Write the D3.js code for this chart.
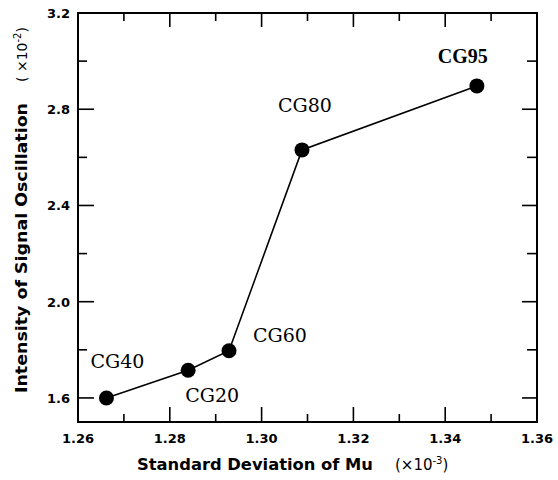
<!DOCTYPE html>
<html>
<head>
<meta charset="utf-8">
<script src="https://cdn.jsdelivr.net/npm/d3@7"></script>
<style>
  body { margin: 0; background: #fff; }
  .tick-label { font-family: "DejaVu Sans", sans-serif; font-weight: bold; font-size: 13px; }
  .axis-title { font-family: "DejaVu Sans", sans-serif; font-weight: bold; font-size: 16px; }
  .pt-label { font-family: "DejaVu Serif", serif; font-size: 19px; }
</style>
</head>
<body>
<svg width="558" height="480"></svg>
<script>
const samples = ['CG40', 'CG20', 'CG60', 'CG80', 'CG95'];
const stdDev = [1.2662, 1.2840, 1.2929, 1.3088, 1.3469];
const intensity = [1.600, 1.715, 1.796, 2.631, 2.897];
const xTicks = [1.26, 1.28, 1.30, 1.32, 1.34, 1.36];
const yTicks = [1.6, 2.0, 2.4, 2.8, 3.2];

const svg = d3.select('svg');

const pLeft = 78, pRight = 537, pTop = 13, pBottom = 422;

const x = d3.scaleLinear().domain([1.26, 1.36]).range([pLeft, pRight]);
const y = d3.scaleLinear().domain([1.5, 3.2]).range([pBottom, pTop]);

const xMinor = d3.range(1.27, 1.36, 0.02);
const yMinor = [1.8, 2.2, 2.6, 3.0];

// frame
svg.append('rect')
  .attr('x', pLeft).attr('y', pTop)
  .attr('width', pRight - pLeft).attr('height', pBottom - pTop)
  .attr('fill', 'none').attr('stroke', '#000').attr('stroke-width', 2);

const ticks = svg.append('g').attr('stroke', '#000').attr('stroke-width', 1.6);

// bottom / top ticks (inward)
xTicks.slice(1, -1).forEach(v => {
  ticks.append('line').attr('x1', x(v)).attr('x2', x(v)).attr('y1', pBottom).attr('y2', pBottom - 15);
  ticks.append('line').attr('x1', x(v)).attr('x2', x(v)).attr('y1', pTop).attr('y2', pTop + 14);
});
xMinor.forEach(v => {
  ticks.append('line').attr('x1', x(v)).attr('x2', x(v)).attr('y1', pBottom).attr('y2', pBottom - 8);
  ticks.append('line').attr('x1', x(v)).attr('x2', x(v)).attr('y1', pTop).attr('y2', pTop + 8);
});
// left / right ticks
yTicks.slice(0, -1).forEach(v => {
  ticks.append('line').attr('x1', pLeft).attr('x2', pLeft + 16).attr('y1', y(v)).attr('y2', y(v));
  ticks.append('line').attr('x1', pRight).attr('x2', pRight - 15).attr('y1', y(v)).attr('y2', y(v));
});
yMinor.forEach(v => {
  ticks.append('line').attr('x1', pLeft).attr('x2', pLeft + 9).attr('y1', y(v)).attr('y2', y(v));
  ticks.append('line').attr('x1', pRight).attr('x2', pRight - 10).attr('y1', y(v)).attr('y2', y(v));
});

// tick labels
svg.selectAll('.xl')
  .data(xTicks)
  .enter()
  .append('text')
  .attr('class', 'tick-label')
  .attr('x', d => x(d))
  .attr('y', 443)
  .attr('text-anchor', 'middle')
  .text(d => d.toFixed(2));

svg.selectAll('.yl')
  .data(yTicks)
  .enter()
  .append('text')
  .attr('class', 'tick-label')
  .attr('x', 70)
  .attr('y', d => y(d) + 5)
  .attr('text-anchor', 'end')
  .text(d => d.toFixed(1));

// axis titles
svg.append('text').attr('class', 'axis-title')
  .attr('x', 137).attr('y', 470)
  .attr('textLength', 236).attr('lengthAdjust', 'spacingAndGlyphs')
  .text('Standard Deviation of Mu');
const xu = svg.append('text').attr('x', 395).attr('y', 470)
  .attr('font-family', '"DejaVu Sans", sans-serif').attr('font-size', 15);
xu.append('tspan').text('(×10');
xu.append('tspan').attr('font-size', 10).attr('dy', -6).text('-3');
xu.append('tspan').attr('dy', 6).text(')');

svg.append('text').attr('class', 'axis-title')
  .attr('font-size', 17)
  .attr('textLength', 290).attr('lengthAdjust', 'spacingAndGlyphs')
  .attr('transform', 'translate(27, 393) rotate(-90)')
  .text('Intensity of Signal Oscillation');
const yu = svg.append('text')
  .attr('font-family', '"DejaVu Sans", sans-serif').attr('font-size', 14)
  .attr('transform', 'translate(27, 82) rotate(-90)');
yu.append('tspan').text('( ×10');
yu.append('tspan').attr('font-size', 10).attr('dy', -6).text('-2');
yu.append('tspan').attr('dy', 6).text(')');

// line + points
const pts = samples.map((s, i) => ({ name: s, sd: stdDev[i], v: intensity[i] }));

svg.append('path')
  .datum(pts)
  .attr('fill', 'none')
  .attr('stroke', '#000')
  .attr('stroke-width', 1.6)
  .attr('d', d3.line().x(d => x(d.sd)).y(d => y(d.v)));

svg.selectAll('circle')
  .data(pts)
  .enter()
  .append('circle')
  .attr('cx', d => x(d.sd))
  .attr('cy', d => y(d.v))
  .attr('r', 7.5)
  .attr('fill', '#000');

const labelOffset = [[11, -30], [24, 32], [51, -9], [3, -38], [-14, -23]];

svg.selectAll('.pt-label')
  .data(pts)
  .enter()
  .append('text')
  .attr('class', 'pt-label')
  .attr('x', (d, i) => x(d.sd) + labelOffset[i][0])
  .attr('y', (d, i) => y(d.v) + labelOffset[i][1])
  .attr('text-anchor', 'middle')
  .style('font-family', d => d.name === 'CG95' ? '"Liberation Serif", serif' : null)
  .style('font-weight', d => d.name === 'CG95' ? 'bold' : null)
  .style('font-size', d => d.name === 'CG95' ? '20px' : null)
  .text(d => d.name);
</script>
</body>
</html>
